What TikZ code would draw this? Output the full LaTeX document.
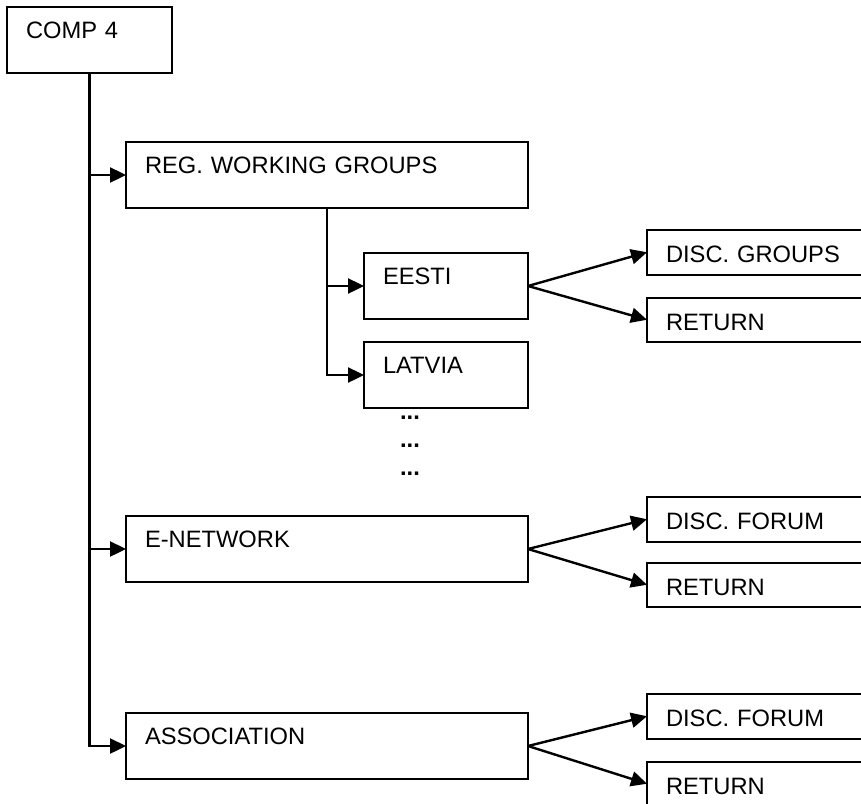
\documentclass[tikz,border=0pt]{standalone}
\usepackage{fontspec}
\setmainfont{Liberation Sans}
\usepackage{tikz}
\usetikzlibrary{positioning}
\usetikzlibrary{arrows.meta}

\newcommand{\boxfont}{\fontsize{23.7pt}{28pt}\selectfont}

\tikzset{
    box/.style = {rectangle, draw, line width = 2pt, anchor = north west,
        align = left, inner xsep = 19pt, inner ysep = 0pt, outer sep = 0pt,
        text height = 31.5pt, text depth = 34.5pt, font = \boxfont},
    wide/.style = {box, text width = 364pt},
    narrow/.style = {box, text width = 127pt},
    leaf/.style = {box, text width = 195pt, text height = 32.5pt, text depth = 12pt},
    link/.style = {line width = 2.4pt, -{Triangle[length = 16pt, width = 15pt]}},
    trunk/.style = {line width = 2.4pt}
}

\begin{document}
\begin{tikzpicture}[x = 1pt, y = -1pt]
    \clip (0,0) rectangle (861,803);
    % nodes %
    \node[narrow] (comp) at (7,7) {COMP 4};
    \node[wide] (reg) at (126,142) {REG. WORKING GROUPS};
    \node[narrow, text width = 126pt] (eesti) at (364,253) {EESTI};
    \node[narrow, text width = 126pt, below = 23pt of eesti] (latvia) {LATVIA};
    \node[wide] (enet) at (126,516) {E-NETWORK};
    \node[wide] (assoc) at (126,713) {ASSOCIATION};
    \node[leaf] (discgr) at (647,230) {DISC. GROUPS};
    \node[leaf, below = 23pt of discgr] (retgr) {RETURN};
    \node[leaf] (discnet) at (647,497) {DISC. FORUM};
    \node[leaf, below = 21pt of discnet] (retnet) {RETURN};
    \node[leaf] (discas) at (647,694) {DISC. FORUM};
    \node[leaf, below = 23pt of discas] (retas) {RETURN};
    % more countries %
    \foreach \y [count = \i] in {419,447,475}
        \node[anchor = base, font = \boxfont\bfseries, inner sep = 0pt] (dots\i) at (410,\y) {...};
    % edges %
    \draw[trunk] (comp.south) -- (comp.south |- assoc.west);
    \draw[link] (comp.south) |- (reg.west);
    \draw[link] (comp.south) |- (enet.west);
    \draw[link] (comp.south) |- (assoc.west);
    \draw[link] (reg.south) |- (eesti.west);
    \draw[link] (reg.south) |- (latvia.west);
    \draw[link] (eesti.east) -- (discgr.west);
    \draw[link] (eesti.east) -- (retgr.west);
    \draw[link] (enet.east) -- (discnet.west);
    \draw[link] (enet.east) -- (retnet.west);
    \draw[link] (assoc.east) -- (discas.west);
    \draw[link] (assoc.east) -- (retas.west);
\end{tikzpicture}
\end{document}
